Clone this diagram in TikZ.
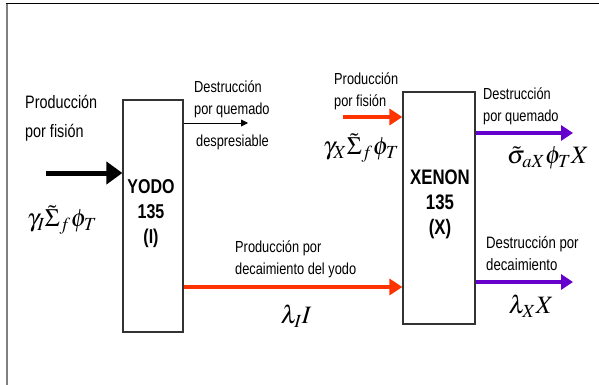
\documentclass[tikz,border=0pt]{standalone}
\usepackage{mathptmx}
\usepackage[no-math]{fontspec}
\setmainfont{Liberation Sans}
\newfontfamily\lab[FakeStretch=0.8]{Liberation Sans}
\usetikzlibrary{arrows.meta}
\definecolor{rojo}{HTML}{FF3300}
\definecolor{morado}{HTML}{6600CC}
\begin{document}
\begin{tikzpicture}[x=1pt,y=-1pt,
  box/.style={draw=black!80, line width=1.2pt, inner sep=0pt, minimum height=232pt},
  boxtext/.style={align=center, inner sep=0pt, font=\lab\bfseries},
  txt/.style={align=left, inner sep=0pt, anchor=west},
  mth/.style={inner sep=0pt},
  fat/.style={line width=5pt, -{Triangle[length=16pt,width=22pt]}},
  thin/.style={line width=0.8pt, -{Triangle[length=7pt,width=7pt]}},
  redarrow/.style={rojo, line width=3.6pt, -{Triangle[length=13pt,width=16pt]}},
  purparrow/.style={morado, line width=3.6pt, -{Triangle[length=12pt,width=15pt]}}]
\useasboundingbox (0,0) rectangle (599,385);
% frame
\draw[black, line width=1pt] (6,4) -- (599,4);
\draw[black!50, line width=1.6pt] (7,4) -- (7,385);
% boxes
\node[box, minimum width=60pt] (yodo) at (153,216) {};
\node[box, minimum width=72pt] (xenon) at (439,208) {};
\node[boxtext, font=\fontsize{20}{25}\lab\bfseries] (yodotxt) at (151,214) {YODO\\135\\(I)};
\node[boxtext, font=\fontsize{21}{25}\lab\bfseries] (xenontxt) at (440,204) {XENON\\135\\(X)};
% coordinates
\coordinate (fisI) at (46,173);
\coordinate (dq) at (248,123);
\coordinate (ry) at (300,287);
\coordinate (fisX) at (343,117);
\coordinate (qX) at (573,133);
\coordinate (dX) at (573,282);
% arrows
\draw[fat] (fisI) -- (yodo.west |- fisI);
\draw[thin] (yodo.east |- dq) -- (dq);
\draw[redarrow] (yodo.east |- ry) -- (xenon.west |- ry);
\draw[redarrow] (fisX) -- (xenon.west |- fisX);
\draw[purparrow] (xenon.east |- qX) -- (qX);
\draw[purparrow] (xenon.east |- dX) -- (dX);
% labels
\node[txt, font=\fontsize{18}{29}\lab] (l1) at (25,118) {Producción\\por fisión};
\node[txt, font=\fontsize{16}{22}\lab] (l2) at (194,99) {Destrucción\\por quemado};
\node[txt, font=\fontsize{16}{22}\lab] (l3) at (196,142) {despresiable};
\node[txt, font=\fontsize{16}{22}\lab] (l4) at (334,91) {Producción\\por fisión};
\node[txt, font=\fontsize{16}{22}\lab] (l5) at (483,106) {Destrucción\\por quemado};
\node[txt, font=\fontsize{16}{22}\lab] (l6) at (235,259) {Producción por\\decaimiento del yodo};
\node[txt, font=\fontsize{16.5}{22}\lab] (l7) at (486,254) {Destrucción por\\decaimiento};
% math
\node[mth, font=\fontsize{25}{30}\selectfont] (mI) at (62,220) {$\gamma_I\tilde{\Sigma}_f\phi_T$};
\node[mth, font=\fontsize{25}{30}\selectfont] (mX) at (361,148) {$\gamma_X\tilde{\Sigma}_f\phi_T$};
\node[mth, font=\fontsize{25}{30}\selectfont] (mS) at (548,158) {$\tilde{\sigma}_{aX}\phi_T X$};
\node[mth, font=\fontsize{25}{30}\selectfont] (mL) at (296,316) {$\lambda_I I$};
\node[mth, font=\fontsize{25}{30}\selectfont] (mLX) at (531,306) {$\lambda_X X$};
\end{tikzpicture}
\end{document}
